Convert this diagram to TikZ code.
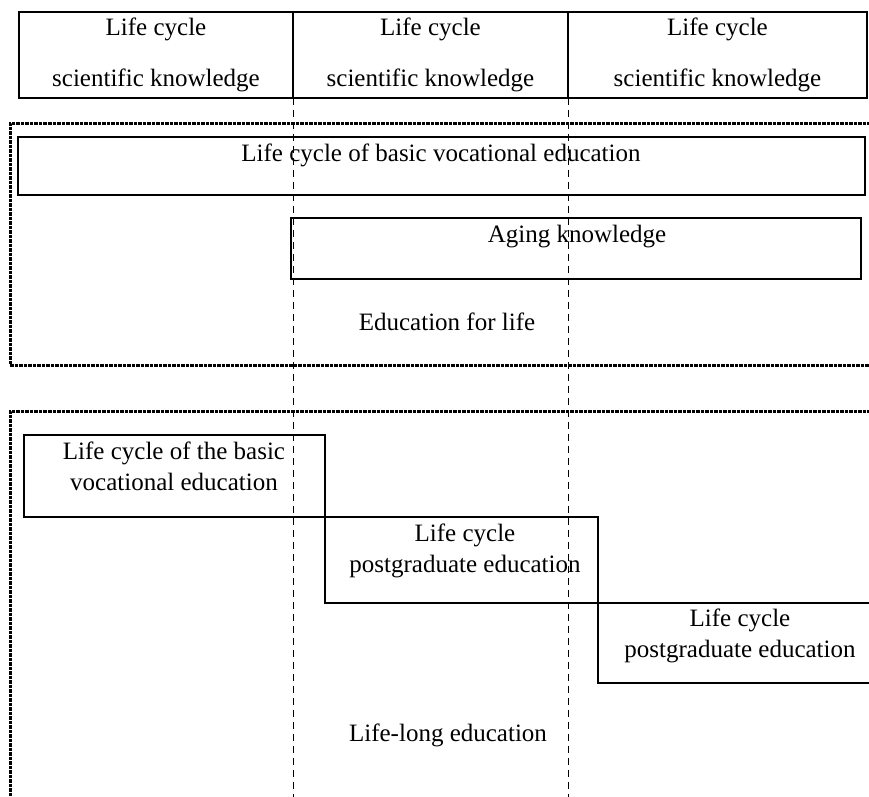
\documentclass[tikz,border=0pt]{standalone}
\usepackage{fontspec}
\setmainfont{Liberation Serif}
\usetikzlibrary{positioning}
\tikzset{
  solidbox/.style={draw, line width=1.6pt, inner sep=0pt, outer sep=0pt, anchor=north west},
  boxline/.style={line width=1.6pt},
  frameline/.style={line width=3pt, dash pattern=on 3.5pt off 1pt},
  guideline/.style={line width=0.8pt, dash pattern=on 7pt off 5pt},
  lbl/.style={align=center, inner sep=0pt, font=\fontsize{25}{31}\selectfont}
}
\begin{document}
\begin{tikzpicture}[x=1pt,y=-1pt]
\useasboundingbox (0,0) rectangle (869,796);
% top row of knowledge cycles
\node[solidbox, minimum width=274pt, minimum height=86pt, lbl] (top1) at (19,12) {Life cycle\\[20pt]scientific knowledge};
\node[solidbox, minimum width=275pt, minimum height=86pt, lbl] (top2) at (top1.north east) {Life cycle\\[20pt]scientific knowledge};
\node[solidbox, minimum width=299pt, minimum height=86pt, lbl] (top3) at (top2.north east) {Life cycle\\[20pt]scientific knowledge};
% dashed guides
\coordinate (g1) at (top1.south east |- 0,800);
\coordinate (g2) at (top2.south east |- 0,800);
\draw[guideline] (top1.south east) -- (g1);
\draw[guideline] (top2.south east) -- (g2);
% education for life
\draw[frameline] (875,123) -- (10,123) -- (10,365) -- (875,365);
\node[solidbox, minimum width=847pt, minimum height=58pt] (basic) at (18,137) {};
\node[lbl] (basictxt) at (441,155) {Life cycle of basic vocational education};
\node[solidbox, minimum width=570pt, minimum height=61pt] (aging) at (291,218) {};
\node[lbl] (agingtxt) at (577,237) {Aging knowledge};
\node[lbl] (forlife) at (447,322) {Education for life};
% life-long education
\draw[frameline] (875,411) -- (10,411) -- (10,800);
\node[solidbox, minimum width=301pt, minimum height=82pt] (step1) at (24,435) {};
\node[lbl] (step1txt) at (174,466) {Life cycle of the basic\\vocational education};
\node[solidbox, minimum width=273pt, minimum height=86pt] (step2) at (step1.south east) {};
\node[lbl] (step2txt) at (465,551) {Life cycle\\postgraduate education};
\coordinate (s3) at (step2.south east);
\draw[boxline] (875,603) -- (s3) -- ++(0,80) -- (875,683);
\node[lbl] (step3txt) at (740,636) {Life cycle\\postgraduate education};
\node[lbl] (lifelong) at (448,735) {Life-long education};
\end{tikzpicture}
\end{document}
